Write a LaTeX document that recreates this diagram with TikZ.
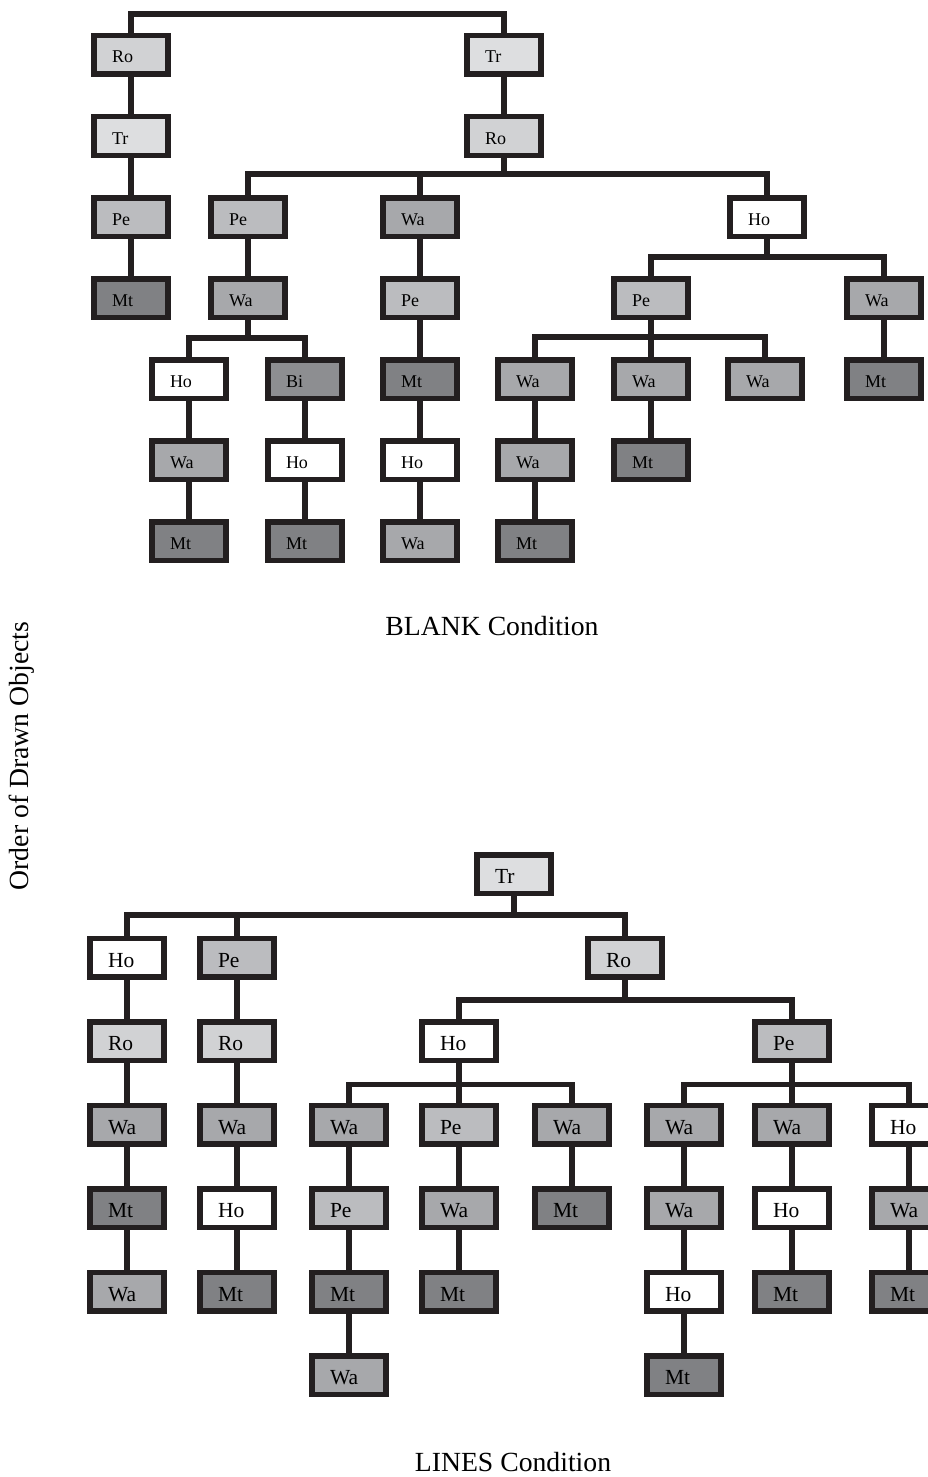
\documentclass[tikz,border=0pt]{standalone}
\usepackage{fontspec}
\setmainfont{Liberation Serif}
\usepackage{tikz}
\usetikzlibrary{positioning}

\definecolor{lineC}{RGB}{35,31,32}
\definecolor{roC}{RGB}{209,210,212}
\definecolor{trC}{RGB}{221,222,224}
\definecolor{peC}{RGB}{187,188,191}
\definecolor{waC}{RGB}{167,168,171}
\definecolor{mtC}{RGB}{128,129,132}
\definecolor{biC}{RGB}{141,142,145}

\begin{document}
\begin{tikzpicture}[x=1pt,y=-1pt,on grid,node distance=81pt,
    main node/.style={rectangle,draw=lineC,line width=5.5pt,text width=38pt,align=left,
      inner xsep=18pt,inner ysep=0pt,minimum height=38.5pt},
    ro node/.style={main node,fill=roC},
    tr node/.style={main node,fill=trC},
    pe node/.style={main node,fill=peC},
    wa node/.style={main node,fill=waC},
    mt node/.style={main node,fill=mtC},
    bi node/.style={main node,fill=biC},
    ho node/.style={main node,fill=white},
    link/.style={draw=lineC,line width=5.5pt},
    label node/.style={font=\fontsize{27.7}{32}\selectfont}]
    \useasboundingbox (0,0) rectangle (928,1477);

    % BLANK condition
    \begin{scope}[font=\fontsize{18}{21}\selectfont,text height=16pt,text depth=0pt]
    \node[ro node] (ro1) at (131,55) {Ro};
    \node[tr node] (tr1) [below=of ro1] {Tr};
    \node[pe node] (pe1) [below=of tr1] {Pe};
    \node[mt node] (mt1) [below=of pe1] {Mt};
    \node[tr node] (tr2) at (504,55) {Tr};
    \node[ro node] (ro2) [below=of tr2] {Ro};
    \node[pe node] (pe2) at (248,217) {Pe};
    \node[wa node] (wa2) [below=of pe2] {Wa};
    \node[ho node] (ho3) at (189,379) {Ho};
    \node[wa node] (wa3) [below=of ho3] {Wa};
    \node[mt node] (mt3) [below=of wa3] {Mt};
    \node[bi node] (bi4) [right=116pt of ho3] {Bi};
    \node[ho node] (ho4) [below=of bi4] {Ho};
    \node[mt node] (mt4) [below=of ho4] {Mt};
    \node[wa node] (wa5) at (420,217) {Wa};
    \node[pe node] (pe5) [below=of wa5] {Pe};
    \node[mt node] (mt5) [below=of pe5] {Mt};
    \node[ho node] (ho5) [below=of mt5] {Ho};
    \node[wa node] (wa5b) [below=of ho5] {Wa};
    \node[ho node] (ho6) at (767,217) {Ho};
    \node[pe node] (pe7) at (651,298) {Pe};
    \node[wa node] (wa11) at (884,298) {Wa};
    \node[mt node] (mt11) [below=of wa11] {Mt};
    \node[wa node] (wa9) [below=of pe7] {Wa};
    \node[mt node] (mt9) [below=of wa9] {Mt};
    \node[wa node] (wa8) [left=116pt of wa9] {Wa};
    \node[wa node] (wa8b) [below=of wa8] {Wa};
    \node[mt node] (mt8) [below=of wa8b] {Mt};
    \node[wa node] (wa10) [right=114pt of wa9] {Wa};
    \end{scope}

    \coordinate (b0) at (504,14);
    \coordinate[below=38pt of ro2] (b1);
    \coordinate[below=40pt of wa2] (b2);
    \coordinate[below=40pt of ho6] (b3);
    \coordinate[below=39pt of pe7] (b4);

    \draw[link] (ro1.north) |- (b0) -- (tr2.north);
    \draw[link] (ro2.south) -- (b1);
    \draw[link] (pe2.north) |- (b1) -| (ho6.north);
    \draw[link] (wa5.north) -- (wa5.north |- b1);
    \draw[link] (wa2.south) -- (b2);
    \draw[link] (ho3.north) |- (b2) -| (bi4.north);
    \draw[link] (ho6.south) -- (b3);
    \draw[link] (pe7.north) |- (b3) -| (wa11.north);
    \draw[link] (wa8.north) |- (b4) -| (wa10.north);
    \path[link]
    (ro1) edge (tr1) (tr1) edge (pe1) (pe1) edge (mt1)
    (tr2) edge (ro2) (pe2) edge (wa2)
    (ho3) edge (wa3) (wa3) edge (mt3)
    (bi4) edge (ho4) (ho4) edge (mt4)
    (wa5) edge (pe5) (pe5) edge (mt5) (mt5) edge (ho5) (ho5) edge (wa5b)
    (pe7) edge (wa9) (wa9) edge (mt9)
    (wa8) edge (wa8b) (wa8b) edge (mt8)
    (wa11) edge (mt11);

    % LINES condition
    \begin{scope}[font=\fontsize{21.5}{25}\selectfont,text height=19pt,text depth=0pt,node distance=83.5pt]
    \node[tr node] (trA) at (514,874) {Tr};
    \node[ho node] (hoB) at (127,957.5) {Ho};
    \node[ro node] (roB) [below=of hoB] {Ro};
    \node[wa node] (waB) [below=of roB] {Wa};
    \node[mt node] (mtB) [below=of waB] {Mt};
    \node[wa node] (waB2) [below=of mtB] {Wa};
    \node[pe node] (peC) [right=110pt of hoB] {Pe};
    \node[ro node] (roC) [below=of peC] {Ro};
    \node[wa node] (waC) [below=of roC] {Wa};
    \node[ho node] (hoC) [below=of waC] {Ho};
    \node[mt node] (mtC) [below=of hoC] {Mt};
    \node[ro node] (roD) at (625,957.5) {Ro};
    \node[ho node] (hoE) at (459,1041) {Ho};
    \node[pe node] (peF) at (792,1041) {Pe};
    \node[pe node] (peH) [below=of hoE] {Pe};
    \node[wa node] (waH) [below=of peH] {Wa};
    \node[mt node] (mtH) [below=of waH] {Mt};
    \node[wa node] (waG) [left=110pt of peH] {Wa};
    \node[pe node] (peG) [below=of waG] {Pe};
    \node[mt node] (mtG) [below=of peG] {Mt};
    \node[wa node] (waG2) [below=of mtG] {Wa};
    \node[wa node] (waI) [right=113pt of peH] {Wa};
    \node[mt node] (mtI) [below=of waI] {Mt};
    \node[wa node] (waK) [below=of peF] {Wa};
    \node[ho node] (hoK) [below=of waK] {Ho};
    \node[mt node] (mtK) [below=of hoK] {Mt};
    \node[wa node] (waJ) [left=108pt of waK] {Wa};
    \node[wa node] (waJ2) [below=of waJ] {Wa};
    \node[ho node] (hoJ) [below=of waJ2] {Ho};
    \node[mt node] (mtJ) [below=of hoJ] {Mt};
    \node[ho node] (hoL) [right=117pt of waK] {Ho};
    \node[wa node] (waL) [below=of hoL] {Wa};
    \node[mt node] (mtL) [below=of waL] {Mt};
    \end{scope}

    \coordinate[below=41pt of trA] (c1);
    \coordinate[below=42.5pt of roD] (c2);
    \coordinate[below=43.5pt of hoE] (c3);
    \coordinate[below=43.5pt of peF] (c4);

    \draw[link] (trA.south) -- (c1);
    \draw[link] (hoB.north) |- (c1) -| (roD.north);
    \draw[link] (peC.north) -- (peC.north |- c1);
    \draw[link] (roD.south) -- (c2);
    \draw[link] (hoE.north) |- (c2) -| (peF.north);
    \draw[link] (waG.north) |- (c3) -| (waI.north);
    \draw[link] (waJ.north) |- (c4) -| (hoL.north);
    \path[link]
    (hoB) edge (roB) (roB) edge (waB) (waB) edge (mtB) (mtB) edge (waB2)
    (peC) edge (roC) (roC) edge (waC) (waC) edge (hoC) (hoC) edge (mtC)
    (hoE) edge (peH) (peH) edge (waH) (waH) edge (mtH)
    (waG) edge (peG) (peG) edge (mtG) (mtG) edge (waG2)
    (waI) edge (mtI)
    (peF) edge (waK) (waK) edge (hoK) (hoK) edge (mtK)
    (waJ) edge (waJ2) (waJ2) edge (hoJ) (hoJ) edge (mtJ)
    (hoL) edge (waL) (waL) edge (mtL);

    % captions
    \node[label node] (blank) at (492,626) {BLANK Condition};
    \node[label node] (lines) at (513,1462) {LINES Condition};
    \node[label node,rotate=90] (order) at (22,756) {Order of Drawn Objects};
\end{tikzpicture}
\end{document}
